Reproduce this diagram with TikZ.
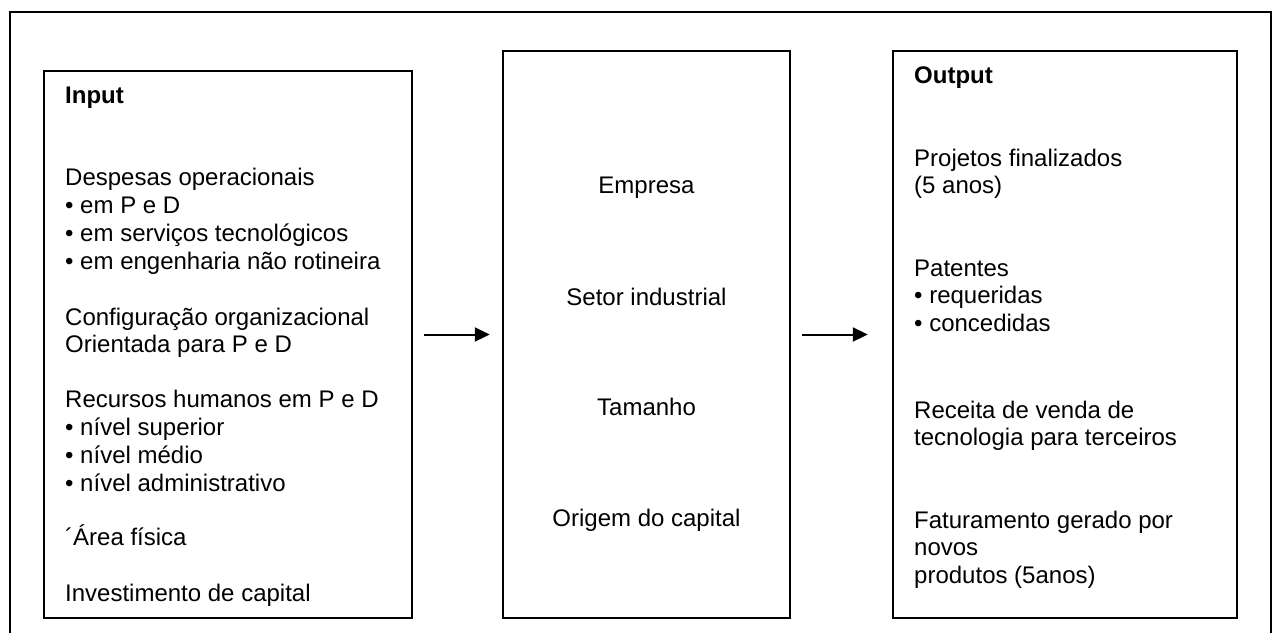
\documentclass[tikz,border=0pt]{standalone}
\usepackage{fontspec}
\setmainfont{Liberation Sans}
\usetikzlibrary{arrows.meta}
\begin{document}
\begin{tikzpicture}[x=1pt,y=-1pt,
  box/.style={draw,line width=2.4pt,inner sep=0pt},
  txt/.style={anchor=base west,inner sep=0pt,align=left,font=\fontsize{24}{27.7}\selectfont},
  ctxt/.style={anchor=base,inner sep=0pt,font=\fontsize{24}{27.7}\selectfont},
  arr/.style={line width=2pt,-{Triangle[length=15pt,width=14pt]}}]
\useasboundingbox (0,0) rectangle (1279,633);
\draw[line width=2.4pt] (10,633) -- (10,12) -- (1271,12) -- (1271,633);
\node[box,minimum width=368pt,minimum height=547pt] (lbox) at (228,344.5) {};
\node[box,minimum width=287pt,minimum height=567pt] (mbox) at (646.5,334.5) {};
\node[box,minimum width=344pt,minimum height=567pt] (rbox) at (1065,334.5) {};
% left texts (anchor = baseline of last line)
\node[txt] (in) at (65,103) {\textbf{Input}};
\node[txt] (desp) at (65,269) {Despesas operacionais\\• em P e D\\• em serviços tecnológicos\\• em engenharia não rotineira};
\node[txt] (conf) at (65,352.7) {Configuração organizacional\\Orientada para P e D};
\node[txt] (rh) at (65,491) {Recursos humanos em P e D\\• nível superior\\• nível médio\\• nível administrativo};
\node[txt] (area) at (65,545) {´Área física};
\node[txt] (inv) at (65,601) {Investimento de capital};
% middle texts
\node[ctxt] (emp) at (646.5,193) {Empresa};
\node[ctxt] (set) at (646.5,305) {Setor industrial};
\node[ctxt] (tam) at (646.5,415) {Tamanho};
\node[ctxt] (ori) at (646.5,526) {Origem do capital};
% right texts
\node[txt] (out) at (914,83) {\textbf{Output}};
\node[txt] (proj) at (914,193.7) {Projetos finalizados\\(5 anos)};
\node[txt] (pat) at (914,331.4) {Patentes\\• requeridas\\• concedidas};
\node[txt] (rec) at (914,445.7) {Receita de venda de\\tecnologia para terceiros};
\node[txt] (fat) at (914,583.4) {Faturamento gerado por\\novos\\produtos (5anos)};
% arrows
\draw[arr,shorten <=11pt,shorten >=12pt] (mbox.west -| lbox.east) -- (mbox.west);
\draw[arr,shorten <=11pt,shorten >=24pt] (mbox.east) -- (rbox.west);
\end{tikzpicture}
\end{document}
